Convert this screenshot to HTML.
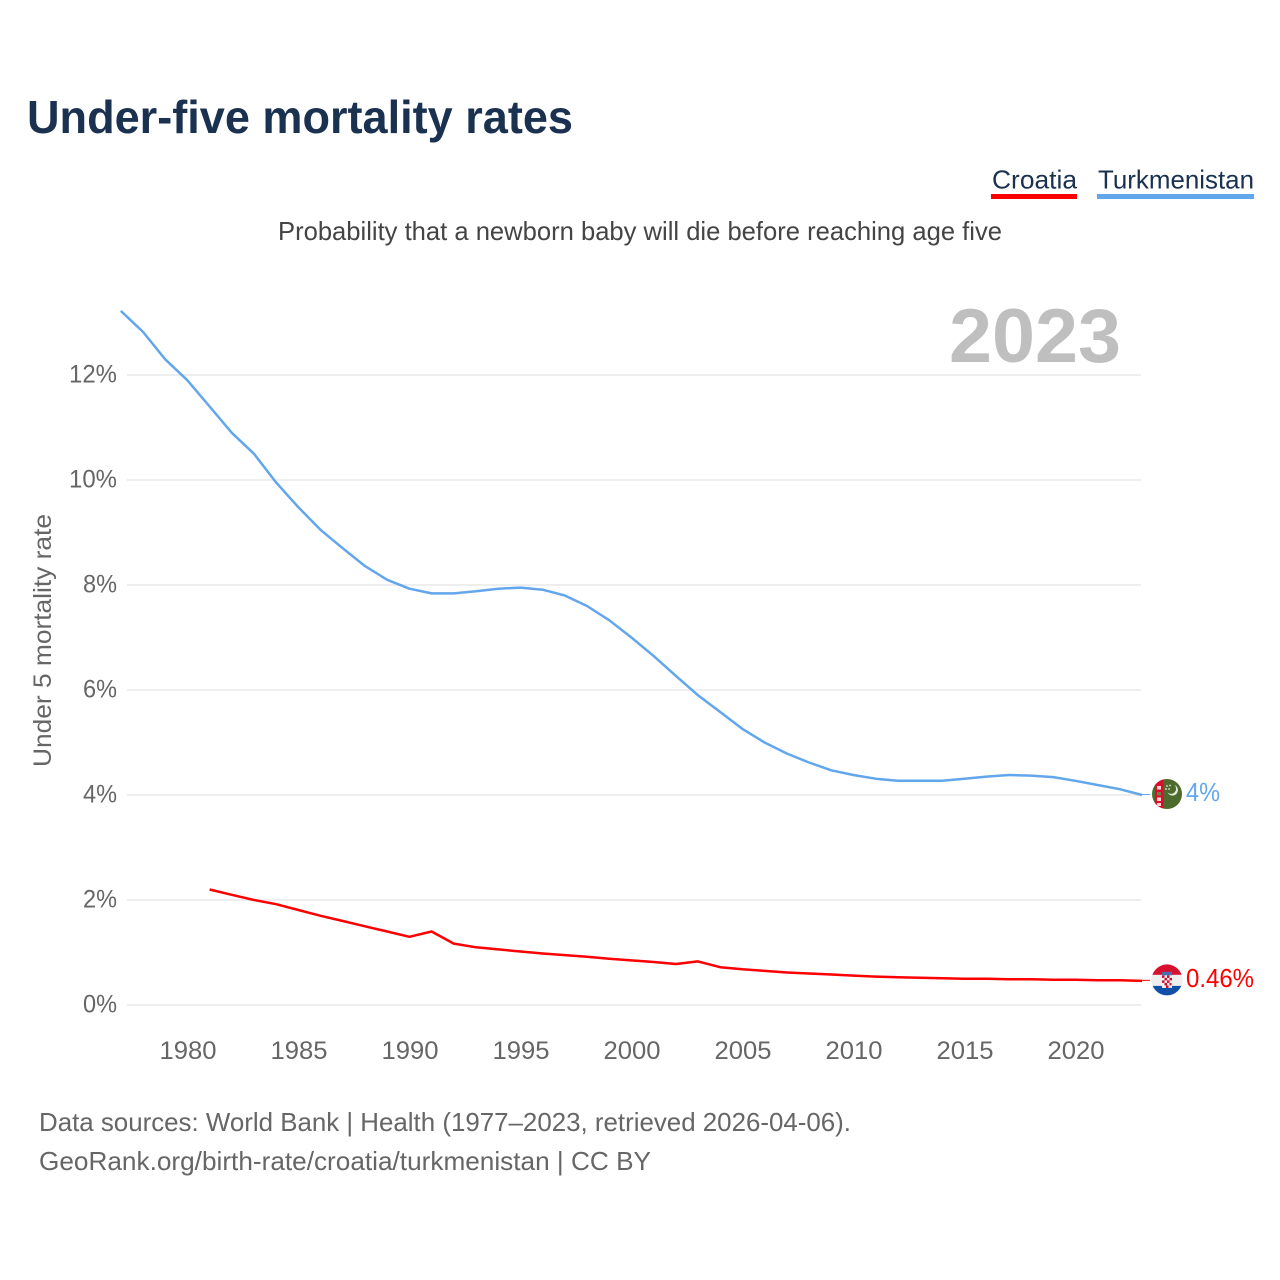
<!DOCTYPE html>
<html lang="en">
<head>
<meta charset="utf-8">
<title>Under-five mortality rates</title>
<style>
html,body{margin:0;padding:0;background:#fff;width:1280px;height:1280px;overflow:hidden}
svg{display:block}
text{font-family:"Liberation Sans",sans-serif}
</style>
</head>
<body>
<svg id="chart" xmlns="http://www.w3.org/2000/svg" width="1280" height="1280" viewBox="0 0 1280 1280">
  <defs>
    <clipPath id="flag-clip-tm"><circle cx="0" cy="0" r="15"/></clipPath>
    <clipPath id="flag-clip-hr"><circle cx="0" cy="0" r="15.5"/></clipPath>
  </defs>
  <rect width="1280" height="1280" fill="#fff"/>
  <text x="27" y="133" font-size="46" font-weight="700" fill="#1a3150" textLength="546" lengthAdjust="spacingAndGlyphs">Under-five mortality rates</text>
  <text x="992" y="188.5" font-size="26" fill="#1a3150" textLength="85" lengthAdjust="spacingAndGlyphs">Croatia</text>
  <rect x="991" y="194" width="86" height="5" fill="#ff0000"/>
  <text x="1098" y="188.5" font-size="26" fill="#1a3150" textLength="156" lengthAdjust="spacingAndGlyphs">Turkmenistan</text>
  <rect x="1097" y="194" width="157" height="5" fill="#62a6ec"/>
  <text x="278" y="240" font-size="26" fill="#444" textLength="724" lengthAdjust="spacingAndGlyphs">Probability that a newborn baby will die before reaching age five</text>
  <text x="949" y="362" font-size="76" font-weight="700" fill="#bfbfbf" textLength="172" lengthAdjust="spacingAndGlyphs">2023</text>
  <text transform="translate(51,767) rotate(-90)" x="0" y="0" font-size="25" fill="#666" textLength="253" lengthAdjust="spacingAndGlyphs">Under 5 mortality rate</text>
  <g id="grid"></g>
  <g id="y-ticks"></g>
  <g id="x-ticks"></g>
  <g id="series"></g>

  <g id="flag-tm" clip-path="url(#flag-clip-tm)">
    <rect x="-15" y="-15" width="30" height="30" fill="#4c6b2d"/>
    <rect x="-12" y="-15" width="8.5" height="30" fill="#d8102f"/>
    <rect x="-10" y="-8" width="4" height="3.5" fill="#f0d8d0"/>
    <rect x="-10" y="-2" width="4" height="3.5" fill="#7a7a48"/>
    <rect x="-10" y="3.5" width="4" height="3.5" fill="#f0d8d0"/>
    <rect x="-10" y="9" width="4" height="3" fill="#f0d8d0"/>
    <path d="M7.5,-9 A5.5,5.5 0 1 1 0.5,-1.5 A5,5 0 0 0 7.5,-9Z" fill="#e6ebd8"/>
    <circle cx="0" cy="-8" r="0.9" fill="#e6ebd8"/>
    <circle cx="3" cy="-8.5" r="0.9" fill="#e6ebd8"/>
    <circle cx="-1" cy="-5" r="0.9" fill="#e6ebd8"/>
    <circle cx="2" cy="-5" r="0.9" fill="#e6ebd8"/>
  </g>
  <g id="flag-hr" clip-path="url(#flag-clip-hr)">
    <rect x="-16" y="-16" width="32" height="11" fill="#d8102f"/>
    <rect x="-16" y="-5" width="32" height="11" fill="#eeeeee"/>
    <rect x="-16" y="6" width="32" height="10" fill="#1250a8"/>
    <rect x="-5" y="-8" width="10" height="3.5" fill="#4a6fb0"/>
    <rect x="-5" y="-4.5" width="10" height="12.5" fill="#f2f2f2"/>
    <rect x="-5" y="-4.5" width="2.5" height="2.5" fill="#c8102e"/>
    <rect x="0" y="-4.5" width="2.5" height="2.5" fill="#c8102e"/>
    <rect x="-2.5" y="-2" width="2.5" height="2.5" fill="#c8102e"/>
    <rect x="2.5" y="-2" width="2.5" height="2.5" fill="#c8102e"/>
    <rect x="-5" y="0.5" width="2.5" height="2.5" fill="#c8102e"/>
    <rect x="0" y="0.5" width="2.5" height="2.5" fill="#c8102e"/>
    <rect x="-2.5" y="3" width="2.5" height="2.5" fill="#c8102e"/>
    <rect x="2.5" y="3" width="2" height="2.5" fill="#c8102e"/>
    <rect x="-1" y="5.5" width="2.5" height="2.5" fill="#c8102e"/>
  </g>

  <text id="value-tm" x="1186" font-size="26" fill="#62a6ec" textLength="34" lengthAdjust="spacingAndGlyphs">4%</text>
  <text id="value-hr" x="1186" font-size="26" fill="#ff0000" textLength="68" lengthAdjust="spacingAndGlyphs">0.46%</text>

  <text x="39" y="1131" font-size="26" fill="#666" textLength="812" lengthAdjust="spacingAndGlyphs">Data sources: World Bank | Health (1977–2023, retrieved 2026-04-06).</text>
  <text x="39" y="1170" font-size="26" fill="#666" textLength="612" lengthAdjust="spacingAndGlyphs">GeoRank.org/birth-rate/croatia/turkmenistan | CC BY</text>
</svg>
<script>
const years = [1977,1978,1979,1980,1981,1982,1983,1984,1985,1986,1987,1988,1989,1990,1991,1992,1993,1994,1995,1996,1997,1998,1999,2000,2001,2002,2003,2004,2005,2006,2007,2008,2009,2010,2011,2012,2013,2014,2015,2016,2017,2018,2019,2020,2021,2022,2023];
const turkmenistan = [13.22,12.82,12.3,11.9,11.4,10.9,10.5,9.95,9.48,9.05,8.7,8.36,8.1,7.93,7.84,7.84,7.88,7.93,7.95,7.91,7.8,7.6,7.33,7.0,6.65,6.27,5.9,5.58,5.26,5.0,4.79,4.62,4.47,4.38,4.31,4.27,4.27,4.27,4.31,4.35,4.38,4.37,4.34,4.27,4.19,4.11,4.0];
const croatia = [null,null,null,null,2.2,2.1,2.0,1.92,1.81,1.7,1.6,1.5,1.4,1.3,1.4,1.17,1.1,1.06,1.02,0.98,0.95,0.92,0.88,0.85,0.82,0.78,0.83,0.72,0.68,0.65,0.62,0.6,0.58,0.56,0.54,0.53,0.52,0.51,0.5,0.5,0.49,0.49,0.48,0.48,0.47,0.47,0.46];
const yTickValues = [0,2,4,6,8,10,12];
const xTickValues = [1980,1985,1990,1995,2000,2005,2010,2015,2020];

const NS = 'http://www.w3.org/2000/svg';
function xScale(year){ return 187.4 + (year - 1980) * 22.2; }
function yScale(v){ return 1005 - v * 52.5; }
function make(tag, attrs, parent){
  const el = document.createElementNS(NS, tag);
  for (const k in attrs) el.setAttribute(k, attrs[k]);
  parent.appendChild(el);
  return el;
}
const gridG = document.getElementById('grid');
const yG = document.getElementById('y-ticks');
const xG = document.getElementById('x-ticks');
const seriesG = document.getElementById('series');

yTickValues.forEach(function(v){
  const line = make('line', {x1:127, x2:1141, y1:yScale(v), y2:yScale(v), stroke:'#eeeeee', 'stroke-width':2}, gridG);
  
  
  const label = make('text', {x:117, y:yScale(v)+7.5, 'text-anchor':'end', 'font-size':25, fill:'#666', textLength:v>=10?48:34, lengthAdjust:'spacingAndGlyphs'}, yG);
  
  
  label.textContent = v + '%';
});
xTickValues.forEach(function(y){
  const label = make('text', {x:xScale(y)+0.6, y:1059, 'text-anchor':'middle', 'font-size':25, fill:'#666', textLength:57, lengthAdjust:'spacingAndGlyphs'}, xG);
  
  
  label.textContent = y;
});
function pathFor(values){
  let d = '';
  values.forEach(function(v,i){
    if (v === null) return;
    d += (d ? 'L' : 'M') + xScale(years[i]).toFixed(1) + ',' + yScale(v).toFixed(1);
  });
  return d;
}
function lastOf(values){ return values[values.length - 1]; }
function lastYear(){ return years[years.length - 1]; }

const tmLine = make('path', {d:pathFor(turkmenistan), fill:'none', stroke:'#62a6ec', 'stroke-width':2.5, 'stroke-linejoin':'round'}, seriesG);


const hrLine = make('path', {d:pathFor(croatia), fill:'none', stroke:'#ff0000', 'stroke-width':2.5, 'stroke-linejoin':'round'}, seriesG);



const tmConn = make('line', {x1:xScale(lastYear()), x2:1150, y1:yScale(lastOf(turkmenistan))-0.5, y2:yScale(lastOf(turkmenistan))-0.5, stroke:'#62a6ec', 'stroke-width':1}, seriesG);


const hrConn = make('line', {x1:xScale(lastYear()), x2:1150, y1:yScale(lastOf(croatia))-0.5, y2:yScale(lastOf(croatia))-0.5, stroke:'#ff0000', 'stroke-width':1}, seriesG);



document.getElementById('flag-tm').setAttribute('transform', 'translate(1167,' + (yScale(lastOf(turkmenistan)) - 1).toFixed(1) + ')');
document.getElementById('flag-hr').setAttribute('transform', 'translate(1167,' + (yScale(lastOf(croatia)) - 1).toFixed(1) + ')');
document.getElementById('value-tm').setAttribute('y', (yScale(lastOf(turkmenistan)) + 6).toFixed(1));
document.getElementById('value-hr').setAttribute('y', (yScale(lastOf(croatia)) + 6).toFixed(1));
</script>
</body>
</html>
